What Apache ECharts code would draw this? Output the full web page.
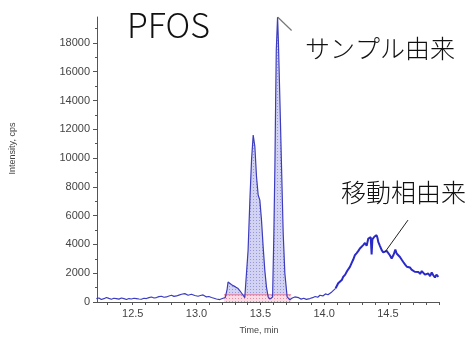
<!DOCTYPE html>
<html>
<head>
<meta charset="utf-8">
<script src="https://cdn.jsdelivr.net/npm/echarts@6/dist/echarts.min.js"></script>
<style>
  html, body { margin: 0; padding: 0; background: #fff; }
  #chart { width: 474px; height: 340px; }
</style>
</head>
<body>
<div id="chart"></div>
<script>
// Extracted ion chromatogram, PFOS transition
const times = [
  12.215, 12.235, 12.254, 12.274, 12.294, 12.313, 12.333, 12.352, 12.372, 12.392,
  12.411, 12.431, 12.451, 12.470, 12.490, 12.510, 12.529, 12.549, 12.568, 12.588,
  12.607, 12.627, 12.647, 12.667, 12.686, 12.705, 12.725, 12.745, 12.764, 12.784,
  12.804, 12.823, 12.843, 12.862, 12.882, 12.895, 12.908, 12.921, 12.934, 12.947,
  12.960, 12.973, 12.986, 13.000, 13.012, 13.030, 13.051, 13.065, 13.078, 13.097,
  13.117, 13.137, 13.156, 13.170, 13.182, 13.195, 13.208,
  13.225, 13.240, 13.247, 13.260, 13.275, 13.287, 13.305, 13.326, 13.340, 13.353,
  13.365, 13.378, 13.388,
  13.391, 13.404, 13.418, 13.431, 13.444, 13.457, 13.470, 13.483, 13.496, 13.509,
  13.522, 13.535, 13.548, 13.561, 13.575,
  13.588, 13.596, 13.606, 13.614, 13.620, 13.625, 13.635, 13.641, 13.649, 13.657,
  13.666, 13.679, 13.692, 13.710, 13.731,
  13.750, 13.770, 13.784, 13.800, 13.820, 13.840, 13.860, 13.888, 13.910, 13.930,
  13.950, 13.967, 13.990, 14.010, 14.030, 14.045, 14.060, 14.075, 14.090
];
const intensity = [
  240, 280, 170, 230, 310, 250, 190, 260, 240, 200,
  280, 230, 170, 240, 210, 260, 240, 210, 190, 260,
  240, 300, 350, 280, 310, 370, 400, 330, 350, 420,
  470, 390, 420, 480, 540, 500, 580, 520, 470, 560,
  540, 490, 450, 420, 400, 450, 490, 420, 350, 380,
  310, 260, 210, 190, 170, 220, 260,
  300, 900, 1390, 1280, 1200, 1160, 1050, 930, 780, 700,
  470, 300, 180,
  150, 3600, 7060, 9860, 11600, 10790, 8700, 7430, 7080, 5690,
  3830, 2200, 1040, 350, 200,
  120, 350, 4770, 9400, 14040, 17520, 19800, 18260, 15480, 12700,
  9400, 4780, 2000, 350, 150,
  280, 350, 240, 300, 200, 260, 180, 240, 300, 380,
  330, 470, 420, 560, 500, 590, 700, 820, 950
];

// Broad mobile-phase hump, drawn with a heavier stroke
const humpTimes = [
  14.090, 14.098, 14.110, 14.125, 14.140, 14.149, 14.165, 14.180, 14.190, 14.202,
  14.215, 14.228, 14.241, 14.255, 14.268, 14.280, 14.293, 14.306, 14.320, 14.333,
  14.346, 14.355, 14.365, 14.372, 14.378, 14.385, 14.395, 14.403, 14.411, 14.418,
  14.424, 14.437, 14.451, 14.463, 14.476, 14.490, 14.502, 14.515, 14.529, 14.545,
  14.558, 14.568, 14.580, 14.594, 14.607, 14.620, 14.635, 14.648, 14.659, 14.672,
  14.685, 14.698, 14.710, 14.725, 14.738, 14.752, 14.765, 14.777, 14.790, 14.803,
  14.816, 14.830, 14.843, 14.855, 14.868, 14.880, 14.895
];
const humpIntensity = [
  950, 1040, 1300, 1250, 1550, 1740, 1900, 2150, 2050, 2440,
  2700, 2950, 3250, 3400, 3550, 3720, 3650, 3950, 4100, 3900,
  4410, 4300, 4500, 3300, 4350, 4400, 4550, 4500, 4640, 4450,
  4180, 3900, 3600, 3450, 3370, 3550, 3600, 3250, 3020, 3300,
  3650, 3370, 3250, 3130, 2950, 2780, 2600, 2450, 2320, 2400,
  2250, 2320, 2100, 2200, 2090, 1950, 2150, 2050, 1900, 2000,
  1980, 1800, 2050, 1860, 1700, 1900, 1740
];

// Integration window of the sample peaks and its baseline level
const peakWindow = [13.225, 13.731];
const baselineLevel = 500;

// Tick values
const yLabelValues = [0, 2000, 4000, 6000, 8000, 10000, 12000, 14000, 16000, 18000];
const xLabelValues = [12.5, 13.0, 13.5, 14.0, 14.5];
const xTickValues = [];
for (let k = 123; k <= 149; k++) xTickValues.push(k / 10);

// Annotation leader lines (data coordinates)
const sampleLeader = [[13.635, 19800], [13.745, 18860]];
const mobileLeader = [[14.657, 5690], [14.476, 3460]];

const traceData = times.map((t, i) => [t, intensity[i]]);
const humpData = humpTimes.map((t, i) => [t, humpIntensity[i]]);
const peakData = traceData.filter(p => p[0] >= peakWindow[0] && p[0] <= peakWindow[1]);
const baselineData = [[peakWindow[0] - 0.01, baselineLevel], [peakWindow[1] + 0.01, baselineLevel]];

function dotPattern(bg, dot) {
  const c = document.createElement('canvas');
  c.width = 3; c.height = 3;
  const g = c.getContext('2d');
  g.fillStyle = bg; g.fillRect(0, 0, 3, 3);
  g.fillStyle = dot; g.fillRect(1, 1, 1, 1);
  return { image: c, repeat: 'repeat' };
}

const chart = echarts.init(document.getElementById('chart'), null, { renderer: 'canvas' });
const axisGrey = '#555';
const tickFont = { color: '#444', fontSize: 11, fontFamily: '"Liberation Sans", Arial, sans-serif' };

chart.setOption({
  animation: false,
  backgroundColor: '#fff',
  grid: { left: 97, right: 35, top: 17, bottom: 38 },
  xAxis: {
    type: 'value',
    min: 12.22,
    max: 14.9,
    name: 'Time, min',
    nameLocation: 'middle',
    nameGap: 24,
    nameTextStyle: { color: '#444', fontSize: 9, fontFamily: '"Liberation Sans", Arial, sans-serif', padding: [0, 18, 0, 0] },
    axisLine: { show: true, lineStyle: { color: axisGrey, width: 1 } },
    axisTick: { show: true, customValues: xTickValues, length: 3, lineStyle: { color: axisGrey } },
    axisLabel: Object.assign({ customValues: xLabelValues, margin: 6, formatter: v => v.toFixed(1) }, tickFont),
    splitLine: { show: false }
  },
  yAxis: {
    type: 'value',
    min: 0,
    max: 19800,
    interval: 2000,
    name: 'Intensity, cps',
    nameLocation: 'middle',
    nameGap: 80,
    nameTextStyle: { color: '#444', fontSize: 9, fontFamily: '"Liberation Sans", Arial, sans-serif', padding: [0, 0, 0, 22] },
    axisLine: { show: true, lineStyle: { color: axisGrey, width: 1 } },
    axisTick: { show: true, customValues: yLabelValues, length: 4, lineStyle: { color: axisGrey } },
    minorTick: { show: true, splitNumber: 2, length: 2, lineStyle: { color: axisGrey } },
    axisLabel: Object.assign({ customValues: yLabelValues, margin: 7, formatter: v => String(v) }, tickFont),
    splitLine: { show: false }
  },
  series: [
    {
      name: 'peak area',
      type: 'line',
      data: peakData,
      symbol: 'none',
      lineStyle: { width: 0 },
      areaStyle: { color: dotPattern('rgb(210,210,242)', 'rgb(150,150,220)'), opacity: 1 },
      z: 1
    },
    {
      name: 'baseline',
      type: 'line',
      data: baselineData,
      symbol: 'none',
      lineStyle: { color: 'rgb(225,120,150)', width: 1 },
      areaStyle: { color: dotPattern('rgb(250,220,230)', 'rgb(230,140,165)'), opacity: 1 },
      z: 2
    },
    {
      name: 'trace',
      type: 'line',
      data: traceData,
      symbol: 'none',
      lineStyle: { color: '#3c3cbe', width: 1.2 },
      z: 3
    },
    {
      name: 'hump',
      type: 'line',
      data: humpData,
      symbol: 'none',
      lineStyle: { color: '#2a2ac8', width: 2 },
      z: 3
    },
    {
      name: 'sample leader',
      type: 'line',
      data: sampleLeader,
      symbol: 'none',
      lineStyle: { color: '#777', width: 1.2 },
      z: 4
    },
    {
      name: 'mobile leader',
      type: 'line',
      data: mobileLeader,
      symbol: 'none',
      lineStyle: { color: '#222', width: 1 },
      z: 4
    }
  ],
  graphic: [
    { type: 'text', left: 127, top: 8, style: { text: 'PFOS', fill: '#111', font: '300 34px "Noto Sans CJK JP", sans-serif' } },
    { type: 'text', left: 305, top: 36, style: { text: 'サンプル由来', fill: '#111', font: '300 25px "Noto Sans CJK JP", sans-serif' } },
    { type: 'text', left: 341, top: 180, style: { text: '移動相由来', fill: '#111', font: '300 25px "Noto Sans CJK JP", sans-serif' } }
  ]
});
</script>
</body>
</html>
